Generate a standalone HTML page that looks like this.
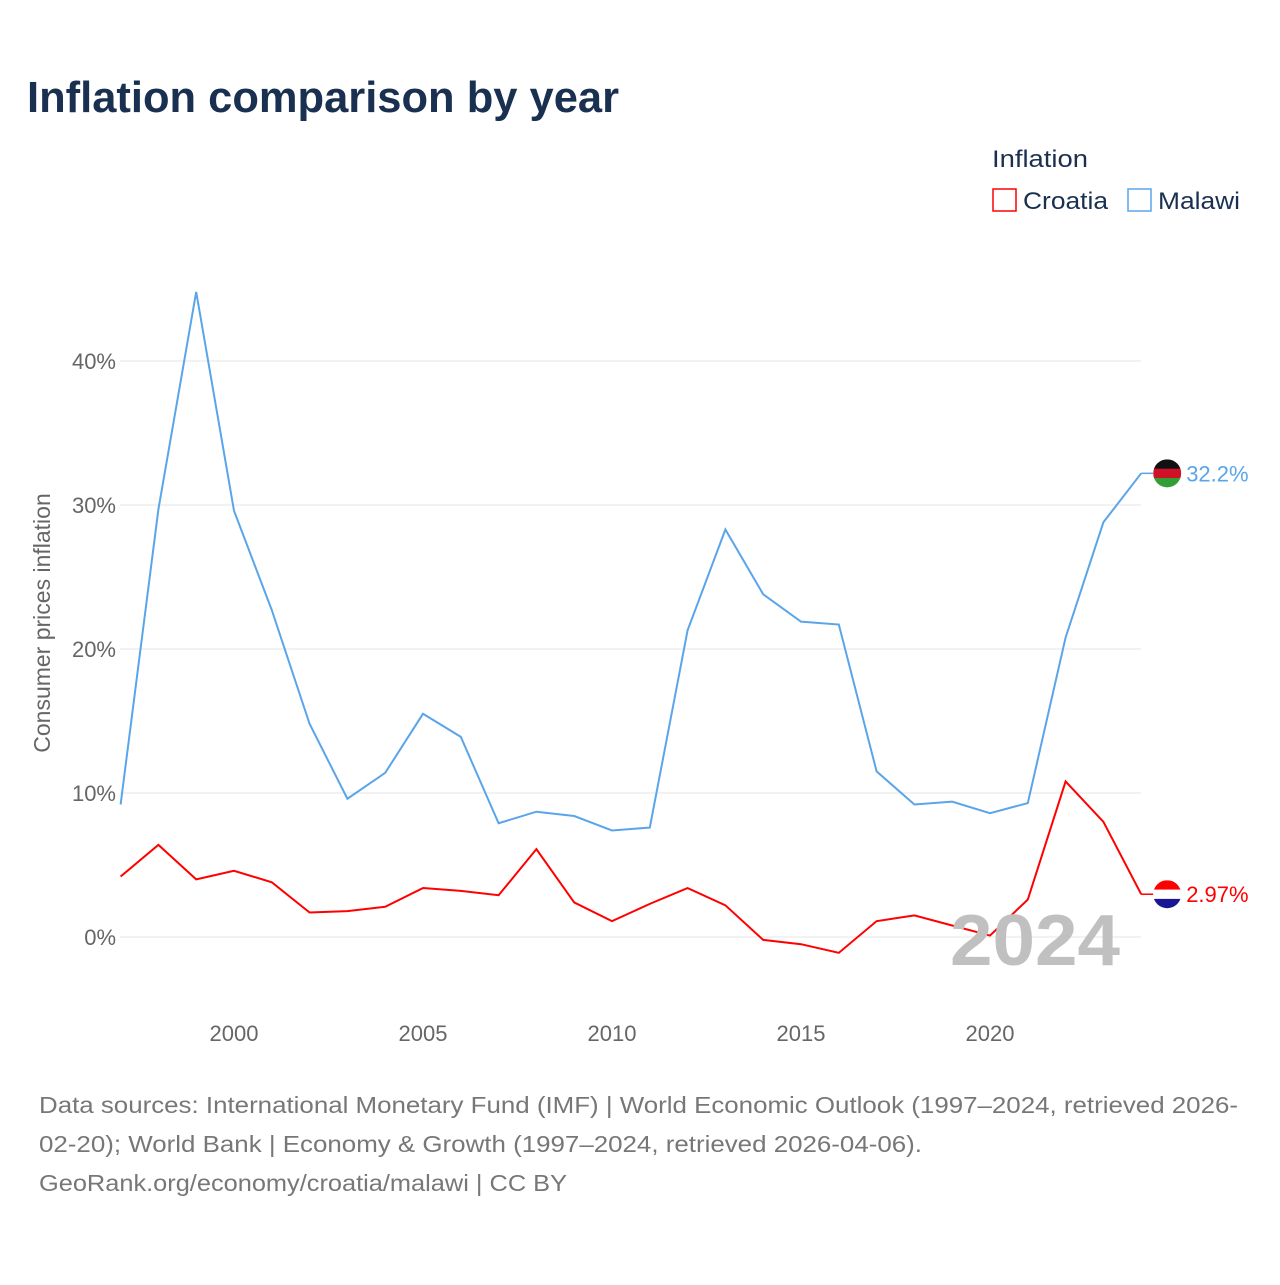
<!DOCTYPE html>
<html><head><meta charset="utf-8"><style>
body{margin:0;background:#fff;font-family:"Liberation Sans",sans-serif;}
svg text{font-family:"Liberation Sans",sans-serif;}
</style></head><body>
<svg id="c" width="1280" height="1280" xmlns="http://www.w3.org/2000/svg">
<text x="27" y="112" font-size="44" font-weight="bold" fill="#1a3050" textLength="592" lengthAdjust="spacingAndGlyphs">Inflation comparison by year</text>
<g>
<text x="992" y="167" font-size="24" fill="#1a3050" textLength="96" lengthAdjust="spacingAndGlyphs">Inflation</text>
<g><rect x="993" y="189" width="23" height="22" fill="none" stroke="#ff0000" stroke-width="1.5"/><text x="1023" y="209" font-size="24" fill="#1a3050" textLength="85" lengthAdjust="spacingAndGlyphs">Croatia</text></g>
<g><rect x="1128" y="189" width="23" height="22" fill="none" stroke="#5aa5ea" stroke-width="1.5"/><text x="1158" y="209" font-size="24" fill="#1a3050" textLength="82" lengthAdjust="spacingAndGlyphs">Malawi</text></g>
</g>
<g id="grid"></g><g id="xt"></g><g id="lines"></g>
<text x="950" y="965" font-size="72" font-weight="bold" fill="#c0c0c0" textLength="170" lengthAdjust="spacingAndGlyphs">2024</text>
<text transform="translate(50,623) rotate(-90)" font-size="23" fill="#666" text-anchor="middle">Consumer prices inflation</text>
<g font-size="23" fill="#777">
<text x="39" y="1113" textLength="1199" lengthAdjust="spacingAndGlyphs">Data sources: International Monetary Fund (IMF) | World Economic Outlook (1997–2024, retrieved 2026-</text>
<text x="39" y="1152" textLength="883" lengthAdjust="spacingAndGlyphs">02-20); World Bank | Economy &amp; Growth (1997–2024, retrieved 2026-04-06).</text>
<text x="39" y="1191" textLength="528" lengthAdjust="spacingAndGlyphs">GeoRank.org/economy/croatia/malawi | CC BY</text>
</g>
</svg>
<script>
const years=[1997,1998,1999,2000,2001,2002,2003,2004,2005,2006,2007,2008,2009,2010,2011,2012,2013,2014,2015,2016,2017,2018,2019,2020,2021,2022,2023,2024];
const malawi=[9.2,29.7,44.8,29.6,22.7,14.8,9.6,11.4,15.5,13.9,7.9,8.7,8.4,7.4,7.6,21.3,28.3,23.8,21.9,21.7,11.5,9.2,9.4,8.6,9.3,20.8,28.8,32.2];
const croatia=[4.2,6.4,4.0,4.6,3.8,1.7,1.8,2.1,3.4,3.2,2.9,6.1,2.4,1.1,2.3,3.4,2.2,-0.2,-0.5,-1.1,1.1,1.5,0.8,0.1,2.6,10.8,8.0,2.97];
const yTicks=[0,10,20,30,40];
const xTicks=[2000,2005,2010,2015,2020];
const NS="http://www.w3.org/2000/svg";
const X=y=>120.6+(y-1997)*37.8, Y=v=>937-v*14.4;
function mk(t,a,p){const e=document.createElementNS(NS,t);for(const k in a)e.setAttribute(k,a[k]);p.appendChild(e);return e;}
const g=document.getElementById('grid');
yTicks.forEach(v=>{
 const l=mk('line',{x1:120,x2:1141,y1:Y(v),y2:Y(v),stroke:'#e6e6e6','stroke-width':1},g);
 
 
 const t=mk('text',{x:116,y:Y(v)+8,'font-size':22,fill:'#666','text-anchor':'end'},g);t.textContent=v+'%';
 
 
});
const xt=document.getElementById('xt');
xTicks.forEach(v=>{
 const t=mk('text',{x:X(v),y:1041,'font-size':22,fill:'#666','text-anchor':'middle'},xt);t.textContent=v;
 
 
});
const L=document.getElementById('lines');
function series(vals,color,name,label,flag){
 const p=mk('polyline',{points:vals.map((v,i)=>X(years[i])+','+Y(v)).join(' '),fill:'none',stroke:color,'stroke-width':2},L);
 
 
 const ly=Y(vals[vals.length-1]), lx=X(years[years.length-1]);
 mk('line',{x1:lx,x2:lx+12,y1:ly,y2:ly,stroke:color,'stroke-width':1.5},L);
 const fg=mk('g',{},L);
 
 
 const cx=lx+26,r=14;
 const cp=mk('clipPath',{id:'cp'+name},fg);mk('circle',{cx:cx,cy:ly,r:r},cp);
 flag.forEach((c,i)=>mk('rect',{x:cx-r,y:ly-r+i*2*r/3,width:2*r,height:2*r/3+0.5,fill:c,'clip-path':'url(#cp'+name+')'},fg));
 const t=mk('text',{x:lx+45,y:ly+8,'font-size':22,fill:color},L);t.textContent=label;
 
 
}
series(malawi,'#5aa5ea','malawi','32.2%',['#111','#ce1126','#339e35']);
series(croatia,'#ff0000','croatia','2.97%',['#ff0000','#fff','#171796']);
</script>
</body></html>
